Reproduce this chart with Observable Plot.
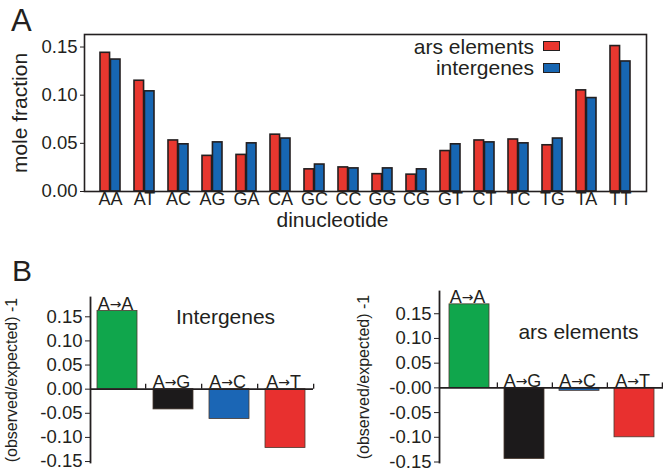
<!DOCTYPE html>
<html><head><meta charset="utf-8">
<script src="https://cdn.jsdelivr.net/npm/d3@7"></script>
<script src="https://cdn.jsdelivr.net/npm/@observablehq/plot@0.6"></script>
<style>
body{margin:0;background:#fff;}
#root{position:relative;width:671px;height:472px;overflow:hidden;font-family:"Liberation Sans",Arial,Helvetica,sans-serif;color:#231f20;}
#root svg{position:absolute;overflow:visible;}
.abs{position:absolute;line-height:1;white-space:nowrap;}
.swatch{position:absolute;width:15px;height:8px;border:1.5px solid #231f20;}
</style></head>
<body><div id="root"></div>
<script>
// ---------- Panel A data ----------
const dinucleotides = ["AA","AT","AC","AG","GA","CA","GC","CC","GG","CG","GT","CT","TC","TG","TA","TT"];
const arsFraction =       [0.144,0.115,0.053,0.037,0.038,0.059,0.023,0.025,0.018,0.0175,0.042,0.053,0.054,0.048,0.105,0.151];
const intergeneFraction = [0.137,0.104,0.049,0.051,0.050,0.055,0.028,0.024,0.024,0.023,0.049,0.051,0.050,0.055,0.097,0.135];
const seriesNames = ["ars elements","intergenes"];
const seriesColors = ["#e8372f","#1766b2"];
const yTicksA = [0, 0.05, 0.10, 0.15];
const yTickLabelsA = ["0.00","0.05","0.10","0.15"];

// ---------- Panel B data ----------
const transitions = ["A→A","A→G","A→C","A→T"];
const transitionColors = ["#10a64c","#1c1a1b","#1b66b5","#e8302f"];
const intergenesDev = [0.162,-0.042,-0.062,-0.122];
const arsDev = [0.169,-0.144,-0.006,-0.100];
const yTicksB = [0.15,0.10,0.05,0,-0.05,-0.10,-0.15];
const yTickLabelsBLeft  = ["0.15","0.10","0.05","0.00","-0.05","-0.10","-0.15"];
const yTickLabelsBRight = ["0.15","0.10","0.05","-0.00","-0.05","-0.10","-0.15"];

const ink = "#231f20";
const FONT = '"Liberation Sans", Arial, Helvetica, sans-serif';
const root = document.getElementById("root");

function place(el, left, top) {
  el.style.position = "absolute";
  el.style.left = left + "px";
  el.style.top = top + "px";
  root.appendChild(el);
}
function addText(txt, left, top, size, extra) {
  const d = document.createElement("div");
  d.className = "abs";
  d.textContent = txt;
  d.style.left = left + "px"; d.style.top = top + "px"; d.style.fontSize = size + "px";
  if (extra) Object.assign(d.style, extra);
  root.appendChild(d);
  return d;
}

// ---------- Panel A ----------
const WA = 671, mlA = 84, mrA = 25, piA = 0.4, poA = 0.275;
const bwA = (WA - mlA - mrA) / (dinucleotides.length - piA + 2 * poA) * (1 - piA);
const dataA = dinucleotides.map((d, i) => ({din: d, ars: arsFraction[i], inter: intergeneFraction[i]}));

const plotA = Plot.plot({
  width: WA, height: 232, marginLeft: mlA, marginRight: mrA, marginTop: 34, marginBottom: 41,
  style: {fontFamily: FONT, fontSize: "18px", color: ink, background: "transparent"},
  x: {type: "band", domain: dinucleotides, paddingInner: piA, paddingOuter: poA, axis: null},
  y: {domain: [0, 0.163], axis: null},
  marks: [
    Plot.barY(dataA, {x: "din", y: "ars", fill: seriesColors[0], stroke: ink, strokeWidth: 1.6, insetRight: bwA / 2}),
    Plot.barY(dataA, {x: "din", y: "inter", fill: seriesColors[1], stroke: ink, strokeWidth: 1.6, insetLeft: bwA / 2}),
    Plot.frame({stroke: ink, strokeWidth: 1.6}),
    Plot.axisX({tickSize: 0, tickPadding: 1, fontSize: 18, label: null, fill: ink}),
    Plot.axisY({ticks: yTicksA, tickFormat: d => yTickLabelsA[yTicksA.indexOf(d)], tickSize: 4, tickPadding: 3, fontSize: 18.5, label: null, stroke: ink, fill: ink}),
    Plot.text(["mole fraction"], {text: d => d, frameAnchor: "left", rotate: -90, dx: -64, fontSize: 21, fill: ink, textAnchor: "middle", lineAnchor: "middle"}),
    Plot.text(["dinucleotide"], {text: d => d, frameAnchor: "bottom", dx: -33, dy: 29, fontSize: 21, fill: ink, textAnchor: "middle", lineAnchor: "middle"})
  ]
});
place(plotA, 0, 0);

// legend
seriesNames.forEach((name, i) => {
  addText(name, 0, [36, 57][i], 21, {right: (671 - 534) + "px", left: "auto"});
  const s = document.createElement("div");
  s.className = "swatch";
  s.style.left = "543px"; s.style.top = [41, 63][i] + "px";
  s.style.background = seriesColors[i];
  root.appendChild(s);
});
addText("A", 11, 5, 31);

// ---------- Panel B ----------
function panelB(values, tickLabels, cfg) {
  const data = transitions.map((t, i) => ({t, v: values[i], c: transitionColors[i]}));
  const inner = cfg.width - cfg.ml - cfg.mr;
  const step = inner / (transitions.length - cfg.pi + 2 * cfg.po);
  const svg = Plot.plot({
    width: cfg.width, height: 242, marginLeft: cfg.ml, marginRight: cfg.mr, marginTop: cfg.mt, marginBottom: 8,
    style: {fontFamily: FONT, fontSize: "18px", color: ink, background: "transparent"},
    x: {type: "band", domain: transitions, paddingInner: cfg.pi, paddingOuter: cfg.po, axis: null},
    y: {domain: cfg.domain, axis: null},
    color: {type: "identity"},
    marks: [
      Plot.barY(data, {x: "t", y: "v", fill: "c", stroke: "#4a3a30", strokeWidth: 0.8}),
      Plot.ruleY([0], {stroke: ink, strokeWidth: 1.6}),
      Plot.ruleX(transitions, {x: d => d, y1: 0, y2: 0.01, dx: step / 2, stroke: ink, strokeWidth: 1.3}),
      Plot.frame({anchor: "left", stroke: ink, strokeWidth: 1.8}),
      Plot.axisY({ticks: yTicksB, tickFormat: d => tickLabels[yTicksB.indexOf(d)], tickSize: 5, tickPadding: 3, fontSize: 18.5, label: null, stroke: ink, fill: ink}),
      Plot.text(data, {x: "t", y: d => Math.max(d.v, 0), text: "t", lineAnchor: "bottom", dy: -1, dx: -2, fontSize: 18, fill: ink}),
      Plot.text([cfg.title], {text: d => d, frameAnchor: "top", dx: cfg.tdx, dy: cfg.tdy, fontSize: 21, fill: ink, lineAnchor: "middle", textAnchor: "middle"}),
      Plot.text(["(observed/expected) -1"], {text: d => d, frameAnchor: "left", rotate: -90, dx: cfg.ldx, fontSize: 16, fill: ink, textAnchor: "middle", lineAnchor: "middle"})
    ]
  });
  // render the arrow in the transition labels with a bolder glyph, tightly spaced
  svg.querySelectorAll("text").forEach(t => {
    const s = t.textContent;
    if (s.length === 3 && s[1] === "→" && !t.querySelector("tspan")) {
      t.textContent = "";
      const ns = "http://www.w3.org/2000/svg";
      const a = document.createElementNS(ns, "tspan"); a.textContent = s[0];
      const r = document.createElementNS(ns, "tspan"); r.textContent = "→";
      r.setAttribute("font-family", "DejaVu Sans"); r.setAttribute("font-size", "14");
      r.setAttribute("dy", "-1");
      const b = document.createElementNS(ns, "tspan"); b.textContent = s[2]; b.setAttribute("dy", "1");
      t.append(a, r, b);
    }
  });
  return svg;
}

const plotBL = panelB(intergenesDev, yTickLabelsBLeft, {
  width: 335, ml: 90, mr: 22, mt: 69, pi: 0.28, po: 0.12, domain: [-0.152, 0.19],
  title: "Intergenes", tdx: 23.5, tdy: 20, ldx: -79
});
place(plotBL, 0, 228);

const plotBR = panelB(arsDev, yTickLabelsBRight, {
  width: 336, ml: 104, mr: 8, mt: 63, pi: 0.28, po: 0.15, domain: [-0.151, 0.195],
  title: "ars elements", tdx: 27, tdy: 41, ldx: -76
});
place(plotBR, 335, 228);

addText("B", 12, 256, 30);
</script>
</body></html>
